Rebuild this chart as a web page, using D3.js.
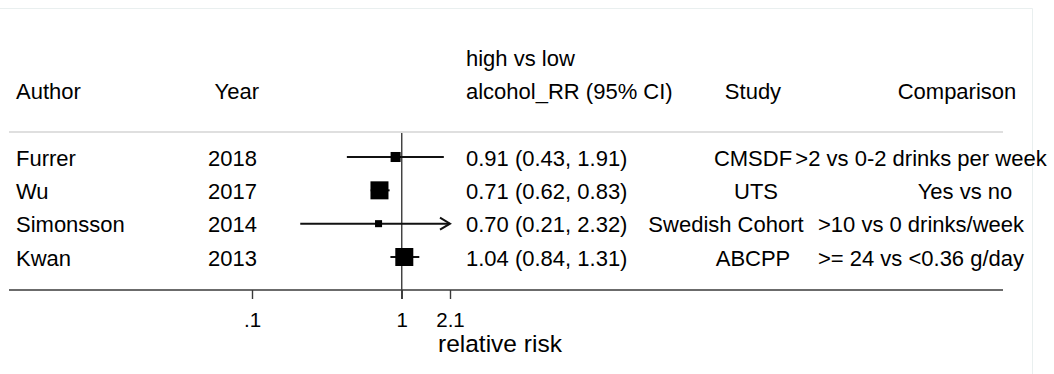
<!DOCTYPE html>
<html>
<head>
<meta charset="utf-8">
<script src="https://cdn.jsdelivr.net/npm/d3@7"></script>
<style>
  body { margin: 0; background: #fff; }
  svg text { font-family: "Liberation Sans", Arial, sans-serif; fill: #000; }
</style>
</head>
<body>
<svg class="chart"></svg>
<script>
// study data
var authors = ["Furrer", "Wu", "Simonsson", "Kwan"];
var years = [2018, 2017, 2014, 2013];
var rr = [0.91, 0.71, 0.70, 1.04];
var lower = [0.43, 0.62, 0.21, 0.84];
var upper = [1.91, 0.83, 2.32, 1.31];
var weights = [12.6, 40.6, 6.2, 40.6];
var studies = ["CMSDF", "UTS", "Swedish Cohort", "ABCPP"];
var comparisons = [">2 vs 0-2 drinks per week", "Yes vs no", ">10 vs 0 drinks/week", ">= 24 vs <0.36 g/day"];
var tickValues = [0.1, 1, 2.1];
var tickLabels = [".1", "1", "2.1"];

var width = 1054, height = 374;

var svg = d3.select(".chart")
    .attr("width", width)
    .attr("height", height);

// log scale for relative risk
var x = d3.scaleLog()
    .domain([0.1, 2.1])
    .range([252, 450]);

var y = d3.scaleLinear()
    .domain([0, authors.length - 1])
    .range([157, 257]);

var boxSize = d3.scaleSqrt()
    .domain([0, d3.max(weights)])
    .range([0, 18]);

var rows = authors.map(function(a, i) {
    return {author: a, year: years[i], rr: rr[i], lo: lower[i], hi: upper[i],
            w: weights[i], study: studies[i], comp: comparisons[i]};
});

var fmt = d3.format(".2f");
var fs = 22;

//faint frame on top and right
svg.append("line").attr("x1", 0).attr("x2", 1032.5).attr("y1", 8.5).attr("y2", 8.5)
    .attr("stroke", "#e9efef").attr("stroke-width", 1);
svg.append("line").attr("x1", 1032.5).attr("x2", 1032.5).attr("y1", 8.5).attr("y2", height)
    .attr("stroke", "#e9efef").attr("stroke-width", 1);

//header
var header = svg.append("g").attr("class", "header").style("font-size", fs + "px");
header.append("text").attr("x", 16).attr("y", 99).text("Author");
header.append("text").attr("x", 259).attr("y", 99).attr("text-anchor", "end").text("Year");
header.append("text").attr("x", 466).attr("y", 66).text("high vs low");
header.append("text").attr("x", 466).attr("y", 99).text("alcohol_RR (95% CI)");
header.append("text").attr("x", 753).attr("y", 99).attr("text-anchor", "middle").text("Study");
header.append("text").attr("x", 957).attr("y", 99).attr("text-anchor", "middle").text("Comparison");

//separator under header
svg.append("line")
    .attr("x1", 9).attr("x2", 1003)
    .attr("y1", 132).attr("y2", 132)
    .attr("stroke", "#d4d4d4").attr("stroke-width", 1.6);

//reference line at 1
svg.append("line")
    .attr("x1", x(1)).attr("x2", x(1))
    .attr("y1", 133).attr("y2", 299)
    .attr("stroke", "#3a3a3a").attr("stroke-width", 1.4);

//bottom axis
var axisY = 290;
svg.append("line")
    .attr("x1", 9).attr("x2", 1003)
    .attr("y1", axisY).attr("y2", axisY)
    .attr("stroke", "#3a3a3a").attr("stroke-width", 1.4);

var xAxis = d3.axisBottom(x)
    .tickValues(tickValues)
    .tickFormat(function(d, i) { return tickLabels[i]; })
    .tickSize(9)
    .tickPadding(13);

var axisG = svg.append("g")
    .attr("transform", "translate(0," + axisY + ")")
    .call(xAxis);
axisG.select(".domain").remove();
axisG.selectAll(".tick line").attr("stroke", "#3a3a3a").attr("stroke-width", 1.4);
axisG.selectAll(".tick text")
    .style("font-size", "20.5px")
    .style("font-family", "Liberation Sans, Arial, sans-serif")
    .attr("fill", "#000");

svg.append("text")
    .attr("x", 438).attr("y", 352)
    .style("font-size", "24.5px")
    .text("relative risk");

//CI lines, clipped at the axis ends with an arrow
var xmin = x.domain()[0], xmax = x.domain()[1];
var ci = svg.append("g").attr("class", "ci");

ci.selectAll("line")
    .data(rows)
    .enter()
    .append("line")
    .attr("x1", function(d) { return x(Math.max(d.lo, xmin)); })
    .attr("x2", function(d) { return x(Math.min(d.hi, xmax)); })
    .attr("y1", function(d, i) { return y(i); })
    .attr("y2", function(d, i) { return y(i); })
    .attr("stroke", "#111").attr("stroke-width", 2);

ci.selectAll("path.arrow")
    .data(rows.map(function(d, i) { return {d: d, i: i}; }).filter(function(o) { return o.d.hi > xmax; }))
    .enter()
    .append("path")
    .attr("class", "arrow")
    .attr("d", function(o) {
        var ax = x(xmax), ay = y(o.i);
        return "M" + (ax - 10) + "," + (ay - 6) + "L" + ax + "," + ay + "L" + (ax - 10) + "," + (ay + 6);
    })
    .attr("fill", "none").attr("stroke", "#111").attr("stroke-width", 2);

//weighted boxes
svg.append("g").selectAll("rect")
    .data(rows)
    .enter()
    .append("rect")
    .attr("x", function(d) { return x(d.rr) - boxSize(d.w) / 2; })
    .attr("y", function(d, i) { return y(i) - boxSize(d.w) / 2; })
    .attr("width", function(d) { return boxSize(d.w); })
    .attr("height", function(d) { return boxSize(d.w); })
    .attr("fill", "#000");

//text columns
var body = svg.append("g").style("font-size", fs + "px");
var rowText = body.selectAll("g.row")
    .data(rows)
    .enter()
    .append("g")
    .attr("class", "row")
    .attr("transform", function(d, i) { return "translate(0," + (y(i) + 8.5) + ")"; });

rowText.append("text").attr("x", 16).text(function(d) { return d.author; });
rowText.append("text").attr("x", 257).attr("text-anchor", "end").text(function(d) { return d.year; });
rowText.append("text").attr("x", 466)
    .text(function(d) { return fmt(d.rr) + " (" + fmt(d.lo) + ", " + fmt(d.hi) + ")"; });
// Stata centres by character count, so long strings drift left / short ones right
rowText.append("text")
    .attr("x", function(d) { return 756 - Math.max(0, d.study.length - 4) * 3; })
    .attr("text-anchor", "middle")
    .text(function(d) { return d.study; });
rowText.append("text")
    .attr("x", function(d) { return 921 + Math.max(0, 20 - d.comp.length) * 4; })
    .attr("text-anchor", "middle")
    .text(function(d) { return d.comp; });
</script>
</body>
</html>
